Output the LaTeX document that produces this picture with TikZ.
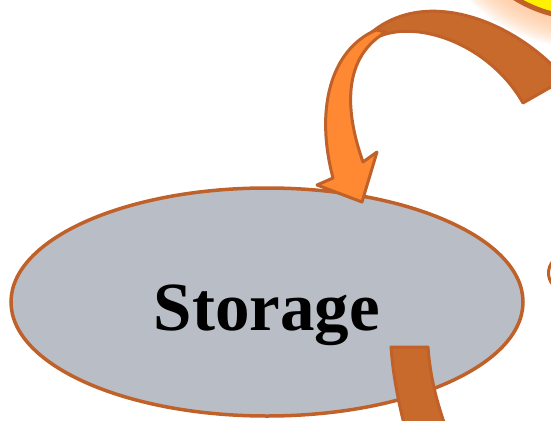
\documentclass[tikz,border=0pt]{standalone}
\usepackage{fontspec}
\setmainfont{Liberation Serif}
\usetikzlibrary{shapes.geometric}
\definecolor{edgec}{HTML}{BF6128}
\definecolor{bandc}{HTML}{C86A2C}
\definecolor{frontc}{HTML}{FF8833}
\definecolor{ellfill}{HTML}{B9BDC6}
\definecolor{sunc}{HTML}{FFF200}
\definecolor{glowc}{HTML}{FFBE8C}
\begin{document}
\begin{tikzpicture}[x=1pt,y=-1pt,
  ribbon/.style={draw=edgec, line width=3pt, line join=round},
  ellnode/.style={ellipse, draw=edgec, fill=ellfill, line width=3.5pt, inner sep=0pt},
  labeltext/.style={font=\bfseries\fontsize{69}{69}\selectfont, text=black}]
\useasboundingbox (0,0) rectangle (551,420);
\begin{scope}
\clip (0,0) rectangle (551,420);
% glow + partially visible yellow shape (top right)
\foreach \k in {0,...,14}
  \fill[glowc, opacity=0.09] (585,-115) circle ({163pt-2pt*\k});
\filldraw[fill=sunc, draw=edgec, line width=5pt] (585,-115) circle (133pt);
% small arc at the right edge
\draw[edgec, line width=3pt] (553,261) .. controls (547,268) and (547,278) .. (553,285);
% storage ellipse
\node[ellnode, minimum width=512pt, minimum height=228pt] (storage) at (267,302) {};
\node[labeltext, anchor=base] (label) at (267,330) {Storage};
% curved arrow: back (dark) band
\filldraw[ribbon, fill=bandc] (523,103) -- (565,79)
  .. controls (520,25) and (430,-15) .. (372,32)
  -- (380,36)
  .. controls (420,20) and (490,45) .. (523,103) -- cycle;
% curved arrow: front (light) part with head
\filldraw[ribbon, fill=frontc] (376,30)
  .. controls (330,50) and (315,110) .. (333,178)
  -- (317,185) -- (362,202) -- (377,152) -- (363,162)
  .. controls (348,120) and (338,60) .. (386,32) -- cycle;
% bottom right band
\filldraw[ribbon, fill=bandc] (391,347) -- (428,347)
  .. controls (430,375) and (436,400) .. (446,428)
  -- (405,428)
  .. controls (398,400) and (393,375) .. (391,347) -- cycle;
\end{scope}
\end{tikzpicture}
\end{document}
